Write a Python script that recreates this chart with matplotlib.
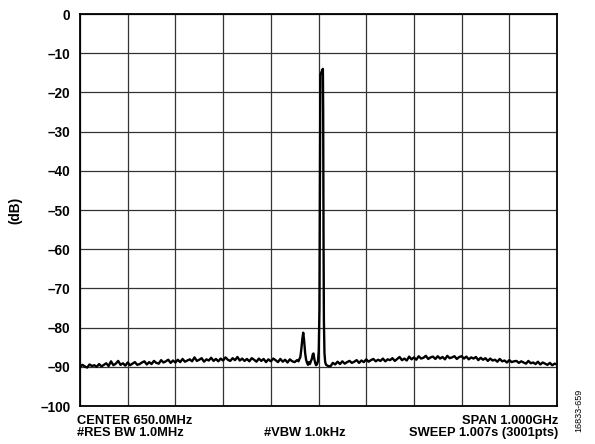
import numpy as np
import matplotlib.pyplot as plt

plt.rcParams['font.family'] = ['Liberation Sans', 'DejaVu Sans']

# sweep 150 MHz .. 1150 MHz, noise floor every 5 MHz
noise_lo_start, noise_lo_step = 150, 5
noise_lo = [
    -90.1, -89.5, -89.9, -90.2, -89.4, -89.8, -89.6, -90.0, -89.3, -89.9,
    -89.5, -89.1, -89.8, -88.6, -89.6, -89.2, -88.5, -89.5, -89.1, -89.7,
    -88.9, -89.6, -89.2, -88.8, -89.5, -89.3, -88.9, -88.6, -89.4, -88.8,
    -89.3, -88.5, -89.0, -89.2, -88.3, -88.9, -88.6, -88.2, -89.0, -88.4,
    -88.9, -88.2, -88.8, -88.0, -88.7, -88.4, -88.1, -88.6, -87.6, -88.5,
    -88.2, -87.8, -88.7, -88.1, -88.4, -87.7, -88.5, -88.0, -88.6, -87.9,
    -88.4, -87.6, -88.2, -88.5, -87.8, -88.3, -87.5, -88.4, -87.9, -88.5,
    -88.0, -88.6, -87.8, -88.2, -88.7, -87.9, -88.5, -88.0, -88.8, -88.1,
    -88.6, -87.9, -88.3, -88.8, -88.0, -88.7, -88.2, -88.9, -88.1, -88.6,
    -88.8, -88.3,
]

# spur at ~618 MHz and carrier at ~657 MHz (finer steps)
peak_freq = [608, 610, 612, 614, 616, 618, 620, 622, 624, 626, 628, 630,
             632, 634, 636, 638, 639.5, 641, 643, 645, 647, 649, 650.5, 652,
             652.8, 653.4, 653.9, 655.5, 657.5, 659.2, 659.8, 660.5, 661.3,
             662.5, 664, 666]
peak_db = [-88.6, -88.0, -87.5, -85.5, -83.0, -81.3, -83.5, -86.5, -88.2,
           -89.0, -89.5, -88.8, -89.3, -88.6, -88.0, -86.8, -86.6, -87.8,
           -89.0, -89.6, -89.3, -88.5, -86.0, -75.0, -50.0, -25.0, -15.5,
           -15.0, -14.4, -14.0, -25.0, -55.0, -78.0, -86.5, -88.8, -89.5]

noise_hi_start, noise_hi_step = 670, 5
noise_hi = [
    -89.8, -89.9, -89.0, -89.4, -88.7, -89.3,
    -88.6, -89.2, -88.8, -88.5, -89.0, -88.7, -88.3, -89.0, -88.4, -88.8,
    -88.1, -88.7, -88.3, -88.0, -88.6, -88.2, -88.5, -87.9, -88.6, -88.1,
    -88.3, -87.8, -88.5, -88.0, -87.5, -88.3, -87.9, -88.4, -87.4, -88.1,
    -87.6, -88.2, -87.3, -87.9, -87.7, -87.2, -88.0, -87.6, -87.4, -88.0,
    -87.3, -87.9, -87.5, -88.1, -87.2, -87.8, -87.6, -87.3, -88.0, -87.5,
    -87.3, -87.9, -87.4, -88.1, -87.6, -87.9, -87.5, -88.3, -87.7, -88.2,
    -87.8, -88.5, -87.9, -88.4, -88.2, -88.7, -88.0, -88.6, -88.4, -88.9,
    -88.3, -88.8, -88.6, -88.5, -89.0, -88.6, -88.9, -89.2, -88.5, -89.1,
    -88.9, -89.3, -88.7, -89.4, -88.9, -89.2, -89.5, -89.0, -89.6, -89.2,
    -89.4,
]

y_ticks = list(range(0, -101, -10))
bottom_left = "CENTER 650.0MHz\n#RES BW 1.0MHz"
bottom_mid = "#VBW 1.0kHz"
bottom_right = "SPAN 1.000GHz\nSWEEP 1.007s (3001pts)"
fig_id = "16833-659"

f_lo = noise_lo_start + noise_lo_step * np.arange(len(noise_lo))
f_hi = noise_hi_start + noise_hi_step * np.arange(len(noise_hi))
freq = np.concatenate([f_lo, peak_freq, f_hi])
level = np.concatenate([noise_lo, peak_db, noise_hi])

fig = plt.figure(figsize=(5.95, 4.44), dpi=100)
ax = fig.add_axes([80 / 595, 38 / 444, 477 / 595, 392 / 444])

ax.plot(freq, level, color='black', lw=1.7)

ax.set_xlim(150, 1150)
ax.set_ylim(-100, 0)
ax.set_xticks(np.arange(150, 1151, 100))
ax.set_xticklabels([])
ax.set_yticks(y_ticks)
ax.set_yticklabels([str(t).replace('-', '\u2013') for t in y_ticks],
                   fontsize=9.8, fontweight='bold')
ax.tick_params(length=0, pad=7)
ax.grid(True, color='#333333', lw=0.9)
for s in ax.spines.values():
    s.set_linewidth(1.3)
    s.set_color('black')

ax.set_ylabel("(dB)", fontsize=9.8, fontweight='bold')
ax.yaxis.set_label_coords(-58 / 477, 0.5)

fig.text(77 / 595, 1 - 426.5 / 444, bottom_left, fontsize=9.3,
         fontweight='bold', ha='left', va='center', linespacing=1.0)
fig.text(305 / 595, 1 - 433 / 444, bottom_mid, fontsize=9.3,
         fontweight='bold', ha='center', va='center')
fig.text(558 / 595, 1 - 426.5 / 444, bottom_right, fontsize=9.3,
         fontweight='bold', ha='right', va='center', linespacing=1.0,
         multialignment='right')
fig.text(579 / 595, 1 - 410 / 444, fig_id, fontsize=6.5, rotation=90,
         ha='center', va='center')

fig.savefig("out.png", dpi=100)
